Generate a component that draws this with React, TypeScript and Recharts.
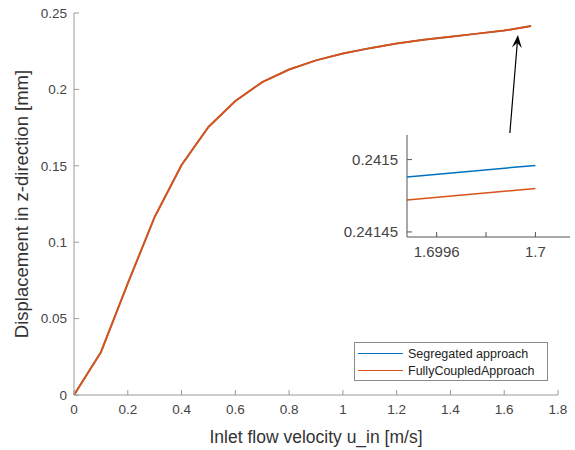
import React from 'react';
import { LineChart, Line, XAxis, YAxis, ReferenceLine } from 'recharts';

// main curve
const velocity = [0, 0.1, 0.2, 0.3, 0.4, 0.5, 0.6, 0.7, 0.8, 0.9, 1.0, 1.1, 1.2, 1.3, 1.4, 1.5, 1.6, 1.7];
const segregated = [0, 0.028, 0.073, 0.1165, 0.1505, 0.1754, 0.1924, 0.2048, 0.213, 0.219, 0.2235, 0.227, 0.23, 0.2325, 0.2345, 0.2365, 0.2385, 0.241496];
const fullyCoupled = [0, 0.028, 0.073, 0.1165, 0.1505, 0.1754, 0.1924, 0.2048, 0.213, 0.219, 0.2235, 0.227, 0.23, 0.2325, 0.2345, 0.2365, 0.2385, 0.24148];

const xTicks = [0, 0.2, 0.4, 0.6, 0.8, 1, 1.2, 1.4, 1.6, 1.8];
const yTicks = [0, 0.05, 0.1, 0.15, 0.2, 0.25];

// zoomed inset near the last point
const insetVelocity = [1.69948, 1.7];
const insetSegregated = [0.241488, 0.241496];
const insetFullyCoupled = [0.241472, 0.24148];
const insetXTicks = [1.6996, 1.6998, 1.7];
const insetXLabels = ['1.6996', '', '1.7'];
const insetYTicks = [0.24145, 0.2415];

// arrow from inset to curve end (data coordinates)
const arrowFrom = { x: 1.621, y: 0.1715 };
const arrowTo = { x: 1.651, y: 0.2356 };

const BLUE = '#0072BD';
const ORANGE = '#D95319';
const FONT = '"Liberation Sans", Arial, sans-serif';

const mainData = velocity.map((v, i) => ({ v, seg: segregated[i], full: fullyCoupled[i] }));
const insetData = insetVelocity.map((v, i) => ({ v, seg: insetSegregated[i], full: insetFullyCoupled[i] }));

const Arrow = (props: any) => {
  const { x1, y1, x2, y2 } = props;
  const ang = Math.atan2(y2 - y1, x2 - x1);
  const len = 13;
  const half = 5;
  const bx = x2 - len * Math.cos(ang);
  const by = y2 - len * Math.sin(ang);
  const px = -Math.sin(ang) * half;
  const py = Math.cos(ang) * half;
  const nx = x2 - 0.6 * len * Math.cos(ang);
  const ny = y2 - 0.6 * len * Math.sin(ang);
  return (
    <g>
      <line x1={x1} y1={y1} x2={nx} y2={ny} stroke="#000" strokeWidth={1.2} />
      <polygon points={`${x2},${y2} ${bx + px},${by + py} ${nx},${ny} ${bx - px},${by - py}`} fill="#000" />
    </g>
  );
};

// rotated y-axis title, centred on the plot height
const YTitle = (props: any) => {
  const { viewBox } = props;
  const cy = viewBox.y + viewBox.height / 2;
  const cx = 21;
  return (
    <text
      x={cx}
      y={cy}
      transform={`rotate(-90 ${cx} ${cy})`}
      textAnchor="middle"
      dominantBaseline="central"
      fill="#333"
      fontSize={18.5}
      fontFamily={FONT}
    >
      Displacement in z-direction [mm]
    </text>
  );
};

export default function App() {
  return (
    <div style={{ position: 'absolute', left: 0, top: 0, width: 575, height: 450, background: '#fff', fontFamily: FONT }}>
      <LineChart width={575} height={450} data={mainData} margin={{ top: 13, right: 17, bottom: 0, left: 14 }}>
        <XAxis
          dataKey="v"
          type="number"
          domain={[0, 1.8]}
          ticks={xTicks}
          tickSize={-5}
          tickMargin={14}
          stroke="#9a9a9a"
          tick={{ fill: '#444', fontSize: 13.5, fontFamily: FONT }}
          height={55}
          label={{ value: 'Inlet flow velocity u_in [m/s]', position: 'insideBottom', offset: 7, fill: '#333', fontSize: 17.5, fontFamily: FONT }}
        />
        <YAxis
          type="number"
          domain={[0, 0.25]}
          ticks={yTicks}
          tickSize={-5}
          tickMargin={12}
          stroke="#9a9a9a"
          width={60}
          tick={{ fill: '#444', fontSize: 13.5, fontFamily: FONT }}
          label={<YTitle />}
        />
        <Line dataKey="seg" stroke={BLUE} strokeWidth={1.5} dot={false} isAnimationActive={false} />
        <Line dataKey="full" stroke={ORANGE} strokeWidth={2} dot={false} isAnimationActive={false} />
        <ReferenceLine segment={[arrowFrom, arrowTo]} shape={Arrow} ifOverflow="visible" />
      </LineChart>

      <div style={{ position: 'absolute', left: 330, top: 120 }}>
        <LineChart width={245} height={140} data={insetData} margin={{ top: 15, right: 5, bottom: 0, left: 0 }}>
          <XAxis
            dataKey="v"
            type="number"
            domain={[1.69948, 1.70014]}
            ticks={insetXTicks}
            tickFormatter={(t: number) => insetXLabels[insetXTicks.indexOf(t)] ?? ''}
            tickSize={-5}
            tickMargin={14}
            stroke="#555"
            height={23}
            tick={{ fill: '#444', fontSize: 15, fontFamily: FONT }}
            allowDataOverflow
          />
          <YAxis
            type="number"
            domain={[0.2414465, 0.241517]}
            ticks={insetYTicks}
            tickFormatter={(t: number) => String(t)}
            tickSize={-5}
            tickMargin={14}
            stroke="#555"
            width={77}
            tick={{ fill: '#444', fontSize: 15, fontFamily: FONT }}
            allowDataOverflow
          />
          <Line dataKey="seg" stroke={BLUE} strokeWidth={1.5} dot={false} isAnimationActive={false} />
          <Line dataKey="full" stroke={ORANGE} strokeWidth={1.5} dot={false} isAnimationActive={false} />
        </LineChart>
      </div>

      <div
        style={{
          position: 'absolute',
          left: 354,
          top: 342,
          width: 194,
          height: 39,
          border: '1px solid #8a8a8a',
          background: '#fff',
          boxSizing: 'border-box',
          fontSize: 12.5,
          color: '#222',
          padding: '2px 0 0 3px',
        }}
      >
        {[
          { name: 'Segregated approach', color: BLUE },
          { name: 'FullyCoupledApproach', color: ORANGE },
        ].map((item) => (
          <div key={item.name} style={{ display: 'flex', alignItems: 'center', height: 17 }}>
            <span style={{ display: 'inline-block', width: 45, height: 0, borderTop: `1.5px solid ${item.color}`, marginRight: 5 }} />
            <span>{item.name}</span>
          </div>
        ))}
      </div>
    </div>
  );
}
